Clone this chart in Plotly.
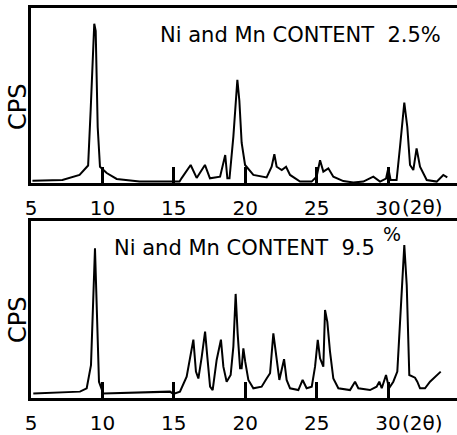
import plotly.graph_objects as go

# ---- data ----
two_theta_low = [5.1, 7.2, 8.4, 9.0, 9.18, 9.43, 9.53, 9.67, 9.83, 10.3, 11.0, 12.6, 14.7, 15.4,
                 15.55, 16.18, 16.6, 17.18, 17.53, 18.24, 18.6, 18.75, 18.9, 19.17, 19.45, 19.59,
                 19.75, 19.99, 20.57, 21.5, 21.85, 22.04, 22.2, 22.56, 22.86, 23.14, 23.84, 24.65,
                 25.0, 25.1, 25.24, 25.47, 25.82, 26.17, 26.87, 27.57, 28.27, 28.97, 29.44, 29.86,
                 30.02, 30.18, 30.6, 30.84, 31.14, 31.35, 31.54, 31.77, 32.0, 32.24, 32.71, 33.41,
                 33.87, 34.15]
cps_low = [1.3, 1.7, 4.6, 10.0, 42.0, 91.0, 87.0, 32.0, 9.3, 5.7, 2.3, 0.8, 0.8, 0.8,
           2.8, 10.3, 2.9, 10.3, 2.7, 3.6, 16.0, 2.7, 2.7, 26.5, 59.0, 47.0,
           23.0, 10.3, 4.6, 3.2, 9.3, 16.4, 9.3, 7.4, 9.3, 4.6, 0.8, 0.8,
           3.6, 8.5, 13.0, 6.5, 8.4, 3.6, 1.1, 0.3, 0.8, 3.6, 0.8, 2.5,
           8.4, 1.7, 1.7, 20.7, 45.9, 32.0, 10.3, 7.4, 19.8, 9.3, 1.7, 0.8,
           4.6, 3.2]

two_theta_high = [5.16, 8.43, 8.9, 9.2, 9.48, 9.6, 9.76, 10.06, 11.93, 14.73, 14.97, 15.43, 15.9,
                  16.18, 16.37, 16.55, 16.72, 16.95, 17.19, 17.35, 17.54, 17.72, 18.0, 18.3, 18.47,
                  18.7, 18.98, 19.17, 19.33, 19.47, 19.64, 19.75, 19.87, 20.0, 20.22, 20.57, 21.15,
                  21.5, 21.74, 21.97, 22.16, 22.39, 22.72, 22.9, 23.14, 23.72, 24.02, 24.3, 24.66,
                  24.89, 25.08, 25.24, 25.47, 25.59, 25.75, 25.94, 26.17, 26.52, 27.34, 27.69, 27.92,
                  28.74, 29.2, 29.39, 29.56, 29.86, 30.07, 30.37, 30.65, 30.89, 31.14, 31.31, 31.49,
                  31.89, 32.05, 32.24, 32.59, 32.94, 33.29, 33.69]
cps_high = [2.6, 3.6, 5.5, 18.6, 84.6, 45.0, 9.2, 2.6, 3.0, 3.6, 2.3, 3.6, 12.0,
            25.0, 33.0, 14.9, 11.0, 23.0, 37.5, 23.0, 6.4, 4.5, 21.5, 33.0, 17.7,
            9.2, 13.0, 29.0, 58.8, 36.5, 16.8, 16.8, 28.0, 20.5, 10.2, 5.5, 6.4,
            11.0, 14.0, 36.5, 23.0, 10.2, 21.9, 10.2, 5.5, 4.5, 10.2, 5.5, 6.4,
            17.7, 32.8, 22.4, 17.7, 49.7, 43.0, 26.0, 11.0, 5.5, 4.5, 9.2, 5.5,
            4.5, 6.4, 9.2, 5.5, 13.0, 5.5, 9.2, 14.9, 50.7, 86.4, 63.8, 13.0,
            11.5, 9.2, 5.5, 5.5, 9.2, 12.0, 14.9]

tick_vals = [5, 10, 15, 20, 25, 30]
tick_text = ["5", "10", "15", "20", "25", "30"]
titles = ["Ni and Mn CONTENT  2.5%", "Ni and Mn CONTENT  9.5"]

W, H = 457, 435
FONT = "DejaVu Sans"

fig = go.Figure()
fig.add_trace(go.Scatter(x=two_theta_low, y=cps_low, mode="lines",
                         line=dict(color="black", width=2), xaxis="x", yaxis="y",
                         showlegend=False, hoverinfo="skip"))
fig.add_trace(go.Scatter(x=two_theta_high, y=cps_high, mode="lines",
                         line=dict(color="black", width=2), xaxis="x2", yaxis="y2",
                         showlegend=False, hoverinfo="skip"))

xr = [5, 34.83]
xdom = [31 / W, 1.0]
common_x = dict(range=xr, domain=xdom, showgrid=False, zeroline=False, showline=True,
                linecolor="black", linewidth=2.5, mirror=True, ticks="inside", ticklen=16,
                tickwidth=2.5, tickcolor="black", tickvals=tick_vals, ticktext=tick_text,
                tickfont=dict(family=FONT, size=20, color="black"), ticklabelstandoff=5,
                automargin=False)
common_y = dict(range=[0, 100], showgrid=False, zeroline=False, showline=True,
                linecolor="black", linewidth=2.5, showticklabels=False, ticks="", mirror=False,
                automargin=False)

fig.update_layout(
    width=W, height=H, margin=dict(l=0, r=0, t=0, b=0, autoexpand=False),
    paper_bgcolor="white", plot_bgcolor="white",
    xaxis=dict(**common_x, anchor="y"),
    yaxis=dict(**common_y, domain=[1 - 183 / H, 1 - 8 / H], anchor="x"),
    xaxis2=dict(**common_x, anchor="y2"),
    yaxis2=dict(**common_y, domain=[1 - 398 / H, 1 - 221 / H], anchor="x2"),
)


def note(text, px, py, size, **kw):
    return dict(text=text, xref="paper", yref="paper", x=px / W, y=1 - py / H,
                xanchor=kw.pop("xanchor", "center"), yanchor="middle", showarrow=False,
                font=dict(family=FONT, size=size, color="black"), **kw)


ann = [
    note("CPS", 18, 107, 24, textangle=-90),
    note("CPS", 18, 320, 24, textangle=-90),
    note(titles[0], 300, 35, 21),
    note(titles[1], 112, 248, 21, xanchor="left"),
    note("%", 392, 234, 19),
    note("(2θ)", 400, 207, 20, xanchor="left"),
    note("(2θ)", 400, 423, 20, xanchor="left"),
]
fig.update_layout(annotations=ann)

fig.write_html("out.html", config={"displayModeBar": False},
               post_script="document.body.style.margin='0';")
